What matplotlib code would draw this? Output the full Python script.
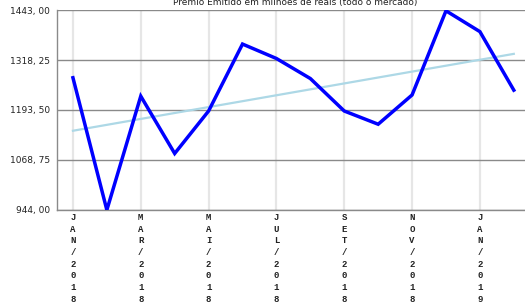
import matplotlib
matplotlib.use('Agg')
import matplotlib.pyplot as plt
import numpy as np

# dados
meses = ['JAN/2018', 'FEV/2018', 'MAR/2018', 'ABR/2018', 'MAI/2018', 'JUN/2018',
         'JUL/2018', 'AGO/2018', 'SET/2018', 'OUT/2018', 'NOV/2018', 'DEZ/2018',
         'JAN/2019', 'FEV/2019']
premio = [1274, 944, 1228, 1085, 1191, 1358, 1322, 1272, 1191, 1158, 1231, 1441, 1389, 1243]
y_ticks = [944.00, 1068.75, 1193.50, 1318.25, 1443.00]

x = np.arange(len(premio))
coef = np.polyfit(x, premio, 1)
tendencia = np.polyval(coef, x)

fig = plt.figure(figsize=(5.25, 3.03), dpi=100)
ax = fig.add_axes([57 / 525, 1 - 210 / 303, 1 - 57 / 525, 200 / 303])

# grade vertical a cada 2 meses
for i in x[::2]:
    ax.axvline(i, color='#e6e6e6', lw=1.6, zorder=0)
for v in y_ticks:
    ax.axhline(v, color='#8a8a8a', lw=1, zorder=1)

ax.plot(x, tendencia, color='#add8e6', lw=1.6, zorder=2)
ax.plot(x, premio, color='#0000ff', lw=2.5, zorder=3, solid_joinstyle='miter')

ax.set_xlim(-0.47, 13.33)
ax.set_ylim(944, 1443)
ax.set_yticks(y_ticks)
ax.set_yticklabels([f'{v:.2f}'.replace('.', ', ') for v in y_ticks],
                   fontsize=6.5, color='#222222')
ax.tick_params(axis='y', length=0, pad=5)

ax.set_xticks(x[::2])
ax.set_xticklabels([])
ax.tick_params(axis='x', length=0)
for i in x[::2]:
    ax.text(i, 1443 - (213 - 10) * (499 / 200), '\n'.join(meses[i]),
            ha='center', va='top', fontsize=6.5, fontweight='bold',
            family='Liberation Mono', linespacing=1.38, color='#222222',
            clip_on=False)

for s in ['top', 'right']:
    ax.spines[s].set_visible(False)
for s in ['left', 'bottom']:
    ax.spines[s].set_color('#8a8a8a')
    ax.spines[s].set_linewidth(1)

fig.text(295 / 525, 1 - 3 / 303, 'Premio Emitido em milhoes de reais (todo o mercado)',
         ha='center', va='center', fontsize=6.5, color='#222222')

fig.savefig('out.png', dpi=100)
